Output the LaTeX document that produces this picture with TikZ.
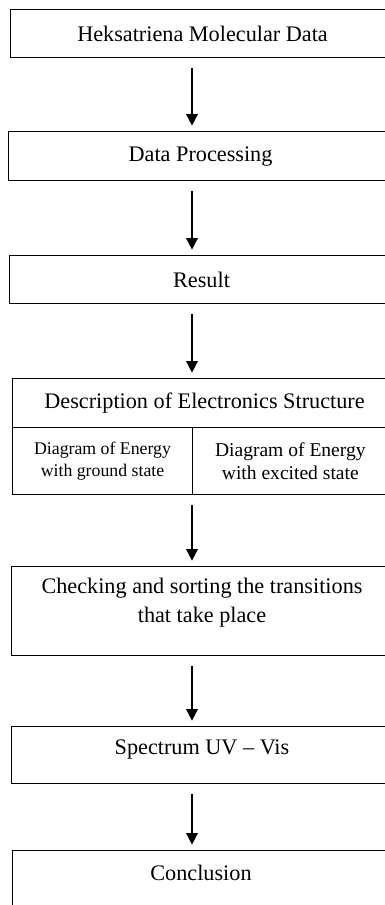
\documentclass[tikz,border=0pt]{standalone}
\usepackage{fontspec}
\setmainfont{Liberation Serif}
\usetikzlibrary{arrows.meta}
\tikzset{
	box/.style={draw, line width=0.6pt, anchor=north west, inner sep=0pt, align=center, font=\fontsize{12.5}{16.3}\selectfont},
	lbl/.style={inner sep=0pt, align=center, font=\fontsize{12.5}{16.3}\selectfont},
	flow/.style={-{Triangle[width=6.5pt,length=6.5pt]}, line width=0.85pt, shorten <=5.6pt, shorten >=3pt}
}
\begin{document}
\begin{tikzpicture}[x=0.5625pt,y=-0.5625pt]
		\useasboundingbox (0,0) rectangle (385,905);
		\clip (0,0) rectangle (385,905);
		\coordinate (axis) at (192,0);
		\node[box, minimum width=216pt, minimum height=27pt] (data) at (10,9) {Heksatriena Molecular Data};
		\node[box, minimum width=216pt, minimum height=27.6pt] (proc) at (8,131) {Data Processing};
		\node[box, minimum width=216pt, minimum height=27pt] (res) at (9,255) {Result};
		\node[box, minimum width=216pt, minimum height=27.6pt] (desc) at (12,378) {Description of Electronics Structure};
		\node[box, minimum width=101.25pt, minimum height=37.7pt, font=\fontsize{10}{12.4}\selectfont] (ground) at (12,427) {Diagram of Energy\\with ground state};
		\node[box, minimum width=110pt, minimum height=37.7pt, font=\fontsize{11}{12.6}\selectfont] (excited) at (192,427) {Diagram of Energy\\with excited state};
		\node[box, minimum width=216pt, minimum height=50pt] (check) at (11,566) {};
		\node[lbl] (checktext) at (202,603) {Checking and sorting the transitions\\that take place};
		\node[box, minimum width=216pt, minimum height=32pt] (spec) at (11,726) {};
		\node[lbl] (spectext) at (202,750) {Spectrum UV -- Vis};
		\node[box, minimum width=216pt, minimum height=60pt] (conc) at (12,850) {};
		\node[lbl] (conctext) at (201,873) {Conclusion};
		% arrows between the steps
		\foreach \a/\b in {data/proc,proc/res,res/desc,ground/check,check/spec,spec/conc}
			\draw[flow] (\a.south -| axis) -- (\b.north -| axis);
	\end{tikzpicture}
\end{document}
